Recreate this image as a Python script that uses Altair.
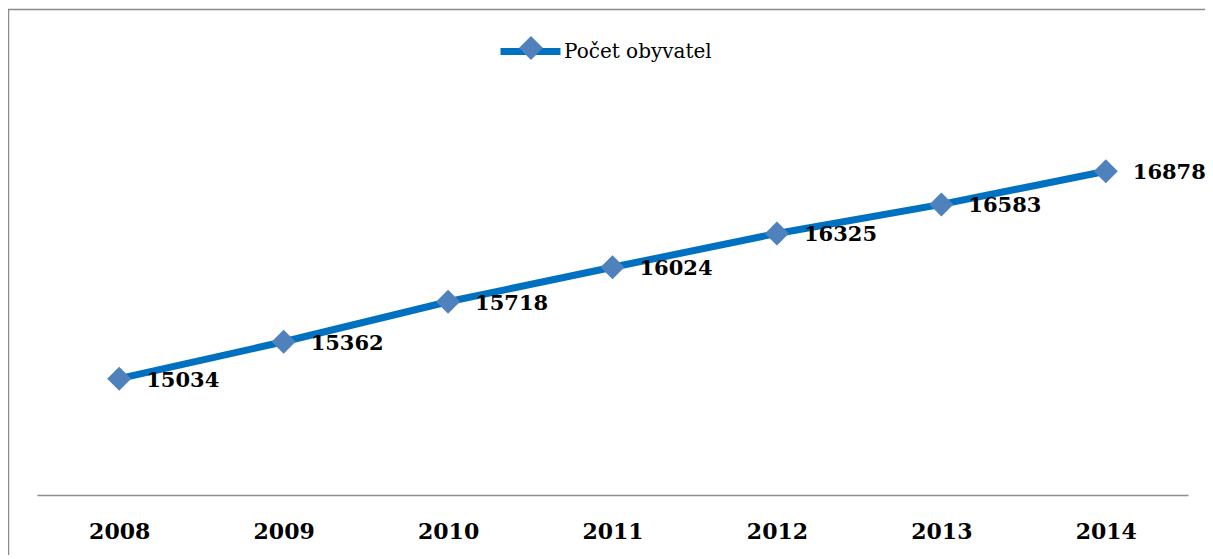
import altair as alt
import pandas as pd

years = ["2008", "2009", "2010", "2011", "2012", "2013", "2014"]
population = [15034, 15362, 15718, 16024, 16325, 16583, 16878]
series_name = "Počet obyvatel"

df = pd.DataFrame({"rok": years, "pocet": population, "serie": [series_name] * len(years)})

FONT = "DejaVu Serif"
W, H = 1151, 450

x_enc = alt.X("rok:O", scale=alt.Scale(type="point", padding=0.5),
              axis=alt.Axis(title=None, labelAngle=0, ticks=False, tickSize=0, grid=False,
                            domainColor="#8c8c8c", domainWidth=1.5,
                            labelFont=FONT, labelFontWeight="bold", labelFontSize=22,
                            labelColor="#000000", labelPadding=36, labelBaseline="middle"))
y_enc = alt.Y("pocet:Q", scale=alt.Scale(domain=[14000, 18000], nice=False, zero=False), axis=None)

base = alt.Chart(df)

line = base.mark_line(strokeWidth=7).encode(
    x=x_enc, y=y_enc,
    stroke=alt.Stroke("serie:N", scale=alt.Scale(domain=[series_name], range=["#0070C0"]),
                      legend=alt.Legend(title=None, orient="none", legendX=460, legendY=-27,
                                        symbolType="stroke", symbolSize=3600, symbolStrokeWidth=7,
                                        labelFont=FONT, labelFontSize=20, labelColor="#000000",
                                        labelOffset=0, padding=0, offset=0)),
)

points = base.mark_point(shape="diamond", size=576, filled=True, opacity=1, strokeWidth=0).encode(
    x=x_enc, y=y_enc,
    fill=alt.Fill("serie:N", scale=alt.Scale(domain=[series_name], range=["#4F81BD"]),
                  legend=alt.Legend(title=None, orient="none", legendX=482, legendY=-9,
                                    symbolType="diamond", symbolSize=576, symbolStrokeWidth=0,
                                    symbolOpacity=1, labelExpr="''", padding=0, offset=0)),
)

labels = base.mark_text(align="left", baseline="middle", dx=27, dy=2, font=FONT,
                        fontWeight="bold", fontSize=21, color="#000000").encode(
    x=x_enc, y=y_enc, text="pocet:Q"
)

border_top = alt.Chart(pd.DataFrame({"k": [0]})).mark_rule(color="#8c8c8c", strokeWidth=1.5).encode(
    x=alt.value(-29), x2=alt.value(1200), y=alt.value(-35.5)
)
border_left = alt.Chart(pd.DataFrame({"k": [0]})).mark_rule(color="#8c8c8c", strokeWidth=1.5).encode(
    x=alt.value(-28.5), y=alt.value(-36), y2=alt.value(520)
)

chart = alt.layer(border_top, border_left, line, points, labels).resolve_scale(
    stroke="independent", fill="independent"
).properties(
    width=W, height=H,
    autosize=alt.AutoSizeParams(type="none"),
    padding={"left": 29, "top": 37, "right": 17, "bottom": 60},
).configure(background="#ffffff").configure_view(stroke=None)

chart.save("out.html", embed_options={"renderer": "svg", "actions": False})
